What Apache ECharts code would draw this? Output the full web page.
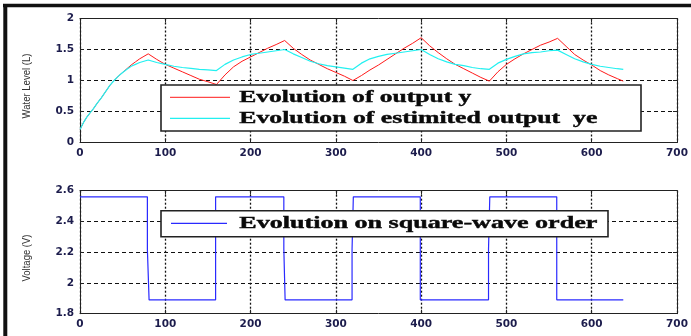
<!DOCTYPE html>
<html>
<head>
<meta charset="utf-8">
<script src="https://cdn.jsdelivr.net/npm/echarts@6/dist/echarts.min.js"></script>
<style>
html,body{margin:0;padding:0;background:#fff;}
#chart{width:691px;height:336px;}
</style>
</head>
<body>
<div id="chart"></div>
<script>
// ---- data ----
const timeSteps = [0,4,8,12,16,20,25,30,35,40,45,50,55,60,65,70,75,80,
  90,100,110,120,130,140,150,160,
  170,180,190,200,210,220,230,240,
  250,260,270,280,290,300,310,320,
  330,340,350,360,370,380,390,400,
  410,420,430,440,450,460,470,480,
  490,500,510,520,530,540,550,560,
  570,580,590,600,610,620,630,637];
const outputY = [0.21,0.32,0.41,0.48,0.55,0.63,0.72,0.82,0.92,1.0,1.07,1.13,1.19,1.25,1.30,1.35,1.39,1.43,
  1.34,1.26,1.20,1.14,1.08,1.02,0.98,0.935,
  1.09,1.22,1.31,1.38,1.45,1.52,1.58,1.645,
  1.52,1.42,1.33,1.26,1.19,1.13,1.07,1.0,
  1.08,1.17,1.25,1.34,1.43,1.52,1.60,1.69,
  1.56,1.45,1.35,1.26,1.19,1.12,1.05,0.99,
  1.14,1.26,1.35,1.43,1.50,1.57,1.62,1.68,
  1.55,1.42,1.33,1.25,1.16,1.09,1.03,0.99];
const estimatedYe = [0.21,0.32,0.41,0.48,0.55,0.63,0.72,0.82,0.92,1.0,1.07,1.13,1.18,1.23,1.26,1.29,1.31,1.33,
  1.29,1.26,1.23,1.21,1.195,1.18,1.17,1.16,
  1.26,1.33,1.38,1.42,1.44,1.46,1.48,1.50,
  1.43,1.37,1.31,1.27,1.24,1.22,1.20,1.18,
  1.28,1.35,1.39,1.42,1.44,1.46,1.48,1.50,
  1.42,1.35,1.30,1.26,1.24,1.21,1.19,1.18,
  1.28,1.34,1.39,1.43,1.45,1.46,1.48,1.49,
  1.42,1.35,1.30,1.26,1.23,1.21,1.19,1.18];
const orderTime = [0,79,79,81,81,159,159,239,239,240.5,240.5,319,319,320.5,320.5,399,399,479,479,480.5,480.5,559,559,637];
const orderVoltage = [2.56,2.56,2.22,2.22,1.89,1.89,2.56,2.56,2.22,2.22,1.89,1.89,2.22,2.22,2.56,2.56,1.89,1.89,2.22,2.22,2.56,2.56,1.89,1.89];
const xTicks = {min:0, max:700, interval:100};
const levelTicks = {min:0, max:2, interval:0.5};
const voltTicks = {min:1.8, max:2.6, interval:0.2};
const legendTop = ['Evolution of output y', 'Evolution of estimited output  ye'];
const legendBottom = ['Evolution on square-wave order'];
const yNames = ['Water Level (L)', 'Voltage (V)'];

// ---- chart ----
const chart = echarts.init(document.getElementById('chart'));
const labelStyle = {fontFamily:'DejaVu Sans', fontWeight:'bold', fontSize:10.5, color:'#1c1c4c'};
const hDash = {type:[4,3], color:'#111', width:1};
const vDash = {type:[2,2], color:'#111', width:1.3};

function mainX(gi){
  return {type:'value', gridIndex:gi, min:xTicks.min, max:xTicks.max, interval:xTicks.interval,
    axisLine:{show:true, onZero:false, lineStyle:{color:'#222', width:1}},
    axisTick:{show:true, inside:true, length:4, lineStyle:{color:'#222'}},
    axisLabel:Object.assign({margin:5}, labelStyle),
    splitLine:{show:true, lineStyle:vDash}};
}
function topX(gi){
  return {type:'value', gridIndex:gi, position:'top', min:xTicks.min, max:xTicks.max, interval:xTicks.interval,
    axisLine:{show:true, onZero:false, lineStyle:{color:'#222', width:1}},
    axisTick:{show:true, inside:true, length:4, lineStyle:{color:'#222'}},
    axisLabel:{show:false}, splitLine:{show:false}};
}
function mainY(gi, t, fmt){
  return {type:'value', gridIndex:gi, min:t.min, max:t.max, interval:t.interval,
    axisLine:{show:true, onZero:false, lineStyle:{color:'#222', width:1}},
    axisTick:{show:true, inside:true, length:4, lineStyle:{color:'#222'}},
    axisLabel:Object.assign({margin:6, formatter:fmt}, labelStyle),
    splitLine:{show:true, lineStyle:hDash}};
}
function rightY(gi, t){
  return {type:'value', gridIndex:gi, position:'right', min:t.min, max:t.max, interval:t.interval,
    axisLine:{show:true, onZero:false, lineStyle:{color:'#222', width:1}},
    axisTick:{show:true, inside:true, length:4, lineStyle:{color:'#222'}},
    axisLabel:{show:false}, splitLine:{show:false}};
}
const fmt = v => String(+(+v).toFixed(2));

// measure text for legend fitting
const mctx = document.createElement('canvas').getContext('2d');
const legFont = 'bold 16px "Liberation Serif"';
const nameFont = '10.5px "Liberation Sans"';
function fitText(str, x, y, w){
  mctx.font = legFont;
  const natural = mctx.measureText(str).width || 1;
  return {type:'text', x:x, y:y, scaleX:w/natural, scaleY:1, z:101,
    style:{text:str, font:legFont, fill:'#0a0a0a', stroke:'#0a0a0a', lineWidth:0.4, textAlign:'left', textVerticalAlign:'middle'}};
}
function rotName(str, x, y, len){
  mctx.font = nameFont;
  const natural = mctx.measureText(str).width || 1;
  return {type:'text', x:x, y:y, rotation:Math.PI/2, scaleX:len/natural, z:50,
    style:{text:str, font:nameFont, fill:'#333', textAlign:'center', textVerticalAlign:'middle'}};
}

const option = {
  animation:false,
  backgroundColor:'#fff',
  grid:[
    {left:80, top:18.5, width:597, height:124},
    {left:80, top:190.7, width:597, height:123}
  ],
  xAxis:[mainX(0), mainX(1), topX(0), topX(1)],
  yAxis:[mainY(0, levelTicks, fmt), mainY(1, voltTicks, fmt), rightY(0, levelTicks), rightY(1, voltTicks)],
  series:[
    {name:legendTop[0], type:'line', xAxisIndex:0, yAxisIndex:0, showSymbol:false, z:2,
      lineStyle:{color:'#ff1a1a', width:1}, data:timeSteps.map((t,i)=>[t, outputY[i]])},
    {name:legendTop[1], type:'line', xAxisIndex:0, yAxisIndex:0, showSymbol:false, z:3,
      lineStyle:{color:'#22f0f0', width:1.2}, data:timeSteps.map((t,i)=>[t, estimatedYe[i]])},
    {name:legendBottom[0], type:'line', xAxisIndex:1, yAxisIndex:1, showSymbol:false,
      lineStyle:{color:'#2a2aff', width:1.2}, data:orderTime.map((t,i)=>[t, orderVoltage[i]])}
  ],
  graphic:[
    // figure frame (top and left thick edges)
    {type:'line', shape:{x1:3, y1:5.6, x2:691, y2:5.6}, style:{stroke:'#111', lineWidth:3.5}, z:200},
    {type:'line', shape:{x1:5.3, y1:4, x2:5.3, y2:336}, style:{stroke:'#111', lineWidth:4}, z:200},
    // y axis names
    rotName(yNames[0], 27.5, 86, 65),
    rotName(yNames[1], 27.5, 258, 47),
    // top legend
    {type:'rect', shape:{x:161, y:85, width:480, height:46}, style:{fill:'#fff', stroke:'#222', lineWidth:1.6}, z:100},
    {type:'line', shape:{x1:170, y1:97.3, x2:230, y2:97.3}, style:{stroke:'#ff1a1a', lineWidth:1}, z:101},
    {type:'line', shape:{x1:170, y1:118.3, x2:230, y2:118.3}, style:{stroke:'#22f0f0', lineWidth:1.2}, z:101},
    fitText(legendTop[0], 239.3, 97.6, 232),
    fitText(legendTop[1], 239.3, 118.4, 358),
    // bottom legend
    {type:'rect', shape:{x:161, y:210.7, width:447, height:26}, style:{fill:'#fff', stroke:'#222', lineWidth:1.6}, z:100},
    {type:'line', shape:{x1:171, y1:223.3, x2:227, y2:223.3}, style:{stroke:'#2a2aff', lineWidth:1.2}, z:101},
    fitText(legendBottom[0], 239.3, 223.8, 358)
  ]
};
chart.setOption(option);
</script>
</body>
</html>
